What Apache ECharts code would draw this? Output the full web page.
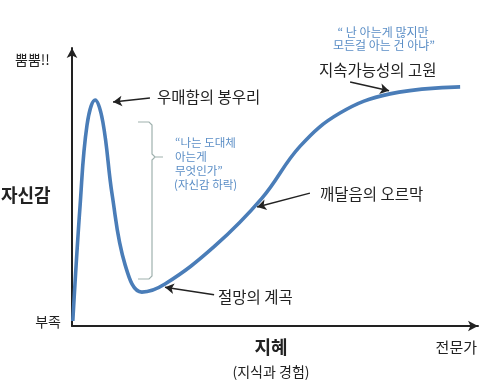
<!DOCTYPE html>
<html>
<head>
<meta charset="utf-8">
<script src="https://cdn.jsdelivr.net/npm/echarts@6/dist/echarts.min.js"></script>
<style>html,body{margin:0;padding:0;background:#fff}#c{width:484px;height:389px}</style>
</head>
<body>
<div id="c"></div>
<script>
// Knowledge (x, 0-100) and confidence (y, 0-100)
const knowledge = [0.2, 2.0, 3.7, 5.7, 7.6, 9.9, 13.1, 17.2, 22.9, 35.2, 46.8, 56.2, 66.0, 78.3, 95.6];
const confidence = [1.8, 43.5, 72.3, 81.3, 73.4, 47.1, 21.9, 12.2, 15.1, 28.8, 46.0, 64.7, 76.6, 83.5, 86.0];
// annotation arrows [fromX, fromY, toX, toY] in data units
const arrows = [[19.2, 82.0, 10.1, 80.6], [58.6, 47.8, 45.6, 42.8], [35.0, 11.2, 22.9, 13.9], [68.5, 87.8, 78.1, 84.6]];
const yTop = '뿜뿜!!', yName = '자신감', yBottom = '부족';
const xName = '지혜', xSub = '(지식과 경험)', xEnd = '전문가';

const FONT = '"Noto Sans CJK KR", "Noto Sans", sans-serif';
const chart = echarts.init(document.getElementById('c'), null, {renderer: 'canvas'});
const data = knowledge.map((k, i) => [k, confidence[i]]);
function txt(text, x, y, size, opts) {
  opts = opts || {};
  return {type: 'text', z: 10, style: {text, x, y, font: (opts.bold ? 'bold ' : '') + size + 'px ' + FONT,
    fill: opts.color || '#222', align: opts.align || 'left', verticalAlign: 'middle'}};
}
const blue = '#5b8ec6';
chart.setOption({
  animation: false,
  grid: {left: 72, right: 6, top: 48, bottom: 63},
  xAxis: {type: 'value', min: 0, max: 100, axisLine: {show: true, symbol: ['none', 'arrow'], symbolSize: [8, 10], lineStyle: {color: '#222', width: 2}},
    axisTick: {show: false}, axisLabel: {show: false}, splitLine: {show: false}},
  yAxis: {type: 'value', min: 0, max: 100, axisLine: {show: true, symbol: ['none', 'arrow'], symbolSize: [8, 10], lineStyle: {color: '#222', width: 2}},
    axisTick: {show: false}, axisLabel: {show: false}, splitLine: {show: false}},
  series: [{
    type: 'line', data, smooth: 0.4, symbol: 'none',
    lineStyle: {color: '#4a7db8', width: 3.6},
    markLine: {silent: true, symbol: ['none', 'arrow'], symbolSize: [8, 9], label: {show: false},
      lineStyle: {color: '#222', width: 1.5, type: 'solid'},
      data: arrows.map(a => [{coord: [a[0], a[1]]}, {coord: [a[2], a[3]]}])}
  }],
  graphic: [
    txt(yTop, 15, 60, 14),
    txt(yName, 1, 195, 18, {bold: true}),
    txt(yBottom, 61, 322, 14, {align: 'right'}),
    txt(xName, 271, 347, 18, {bold: true, align: 'center'}),
    txt(xSub, 271, 372, 14, {align: 'center'}),
    txt(xEnd, 477, 347, 15, {align: 'right'}),
    txt('우매함의 봉우리', 157, 97, 15.5),
    txt('깨달음의 오르막', 320, 194, 15.5),
    txt('절망의 계곡', 218, 297, 15.5),
    txt('지속가능성의 고원', 319, 70, 15.5),
    txt('“ 난 아는게 많지만', 383, 32, 12, {align: 'center', color: blue}),
    txt('모든걸 아는 건 아냐”', 384, 45, 12, {align: 'center', color: blue}),
    txt('“나는 도대체', 175, 143, 11.5, {color: blue}),
    txt('아는게', 175, 157, 11.5, {color: blue}),
    txt('무엇인가”', 175, 171, 11.5, {color: blue}),
    txt('(자신감 하락)', 174, 185, 11.5, {color: blue}),
    {type: 'polyline', z: 5, shape: {points: [[138, 122], [149, 122], [152, 125], [152, 154], [155, 157], [163, 157], [155, 157], [152, 160], [152, 276], [149, 279], [138, 279]]},
      style: {stroke: '#9fb1ae', lineWidth: 1.2, fill: null}}
  ]
});
</script>
</body>
</html>
